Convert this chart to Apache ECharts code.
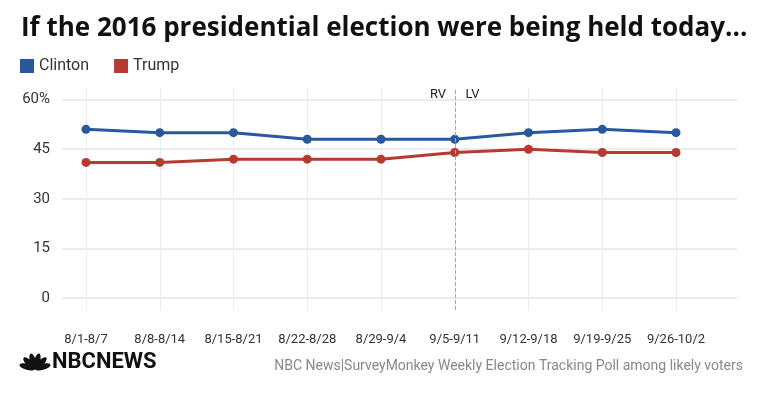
<!DOCTYPE html>
<html>
<head>
<meta charset="utf-8">
<script src="https://cdn.jsdelivr.net/npm/echarts@6/dist/echarts.min.js"></script>
<style>
  html, body { margin: 0; padding: 0; background: #fff; }
  #chart { width: 760px; height: 399px; }
</style>
</head>
<body>
<div id="chart"></div>
<script>
// weekly tracking poll
const weeks = ['8/1-8/7', '8/8-8/14', '8/15-8/21', '8/22-8/28', '8/29-9/4', '9/5-9/11', '9/12-9/18', '9/19-9/25', '9/26-10/2']
const clinton = [51, 50, 50, 48, 48, 48, 50, 51, 50]
const trump = [41, 41, 42, 42, 42, 44, 45, 44, 44]
const yTicks = [0, 15, 30, 45, 60]
const switchWeek = '9/5-9/11' // registered -> likely voters

const font = 'Roboto, sans-serif'
const blue = '#29599c'
const red = '#b53a30'

const chart = echarts.init(document.getElementById('chart'))

// rough peacock: six black feathers fanned out
const feathers = [-75, -45, -15, 15, 45, 75].map(a => ({
  type: 'ellipse',
  shape: { cx: 0, cy: -8, rx: 3, ry: 8 },
  x: 35,
  y: 369,
  rotation: -a * Math.PI / 180,
  style: { fill: '#111' }
}))

chart.setOption({
  backgroundColor: '#fff',
  animation: false,
  title: {
    text: 'If the 2016 presidential election were being held today...',
    left: 16,
    top: 11,
    textStyle: { fontFamily: '"Open Sans", sans-serif', fontWeight: 'bold', fontSize: 26, color: '#111' }
  },
  legend: {
    left: 15,
    top: 53,
    itemWidth: 14,
    itemHeight: 14,
    itemGap: 25,
    icon: 'rect',
    data: ['Clinton', 'Trump'],
    textStyle: { fontFamily: font, fontSize: 16, color: '#333' }
  },
  grid: [
    // horizontal lines + y labels
    { left: 62, right: 23, top: 99.5, bottom: 101 },
    // vertical lines, points, x labels
    { left: 86, right: 84, top: 88, bottom: 89 }
  ],
  xAxis: [
    { gridIndex: 0, type: 'category', data: weeks, show: false },
    {
      gridIndex: 1,
      type: 'category',
      data: weeks,
      boundaryGap: false,
      axisLine: { show: false },
      axisTick: { show: false },
      splitLine: {
        show: true,
        lineStyle: { color: '#ececec', width: 1 }
      },
      axisLabel: {
        interval: 0,
        margin: 23,
        fontFamily: font,
        fontSize: 13,
        color: '#333'
      }
    }
  ],
  yAxis: [
    {
      gridIndex: 0,
      type: 'value',
      min: 0,
      max: 60,
      interval: 15,
      axisLine: { show: false },
      axisTick: { show: false },
      splitLine: { lineStyle: { color: '#ececec', width: 2 } },
      axisLabel: {
        margin: 12,
        fontFamily: font,
        fontSize: 15,
        color: '#333',
        formatter: v => (v === yTicks[yTicks.length - 1] ? v + '%' : String(v))
      }
    },
    { gridIndex: 1, type: 'value', min: -3.6, max: 63.5, show: false }
  ],
  series: [
    {
      name: 'Clinton',
      type: 'line',
      xAxisIndex: 1,
      yAxisIndex: 1,
      data: clinton,
      symbol: 'circle',
      symbolSize: 9,
      lineStyle: { width: 3, color: blue },
      itemStyle: { color: blue },
      markLine: {
        silent: true,
        symbol: 'none',
        lineStyle: { type: 'dashed', color: '#aaa', width: 1 },
        label: {
          position: 'end',
          formatter: 'RV      LV',
          fontFamily: font,
          fontSize: 13,
          color: '#222',
          offset: [0, 18]
        },
        data: [{ xAxis: switchWeek }]
      }
    },
    {
      name: 'Trump',
      type: 'line',
      xAxisIndex: 1,
      yAxisIndex: 1,
      data: trump,
      symbol: 'circle',
      symbolSize: 9,
      lineStyle: { width: 3, color: red },
      itemStyle: { color: red }
    }
  ],
  graphic: feathers.concat([
    {
      type: 'text',
      left: 52,
      top: 351,
      style: {
        text: 'NBCNEWS',
        font: 'bold 22px Roboto, sans-serif',
        fill: '#111'
      }
    },
    {
      type: 'text',
      right: 17,
      top: 359,
      style: {
        text: 'NBC News|SurveyMonkey Weekly Election Tracking Poll among likely voters',
        font: '14px Roboto, sans-serif',
        fill: '#888'
      }
    }
  ])
})
</script>
</body>
</html>
